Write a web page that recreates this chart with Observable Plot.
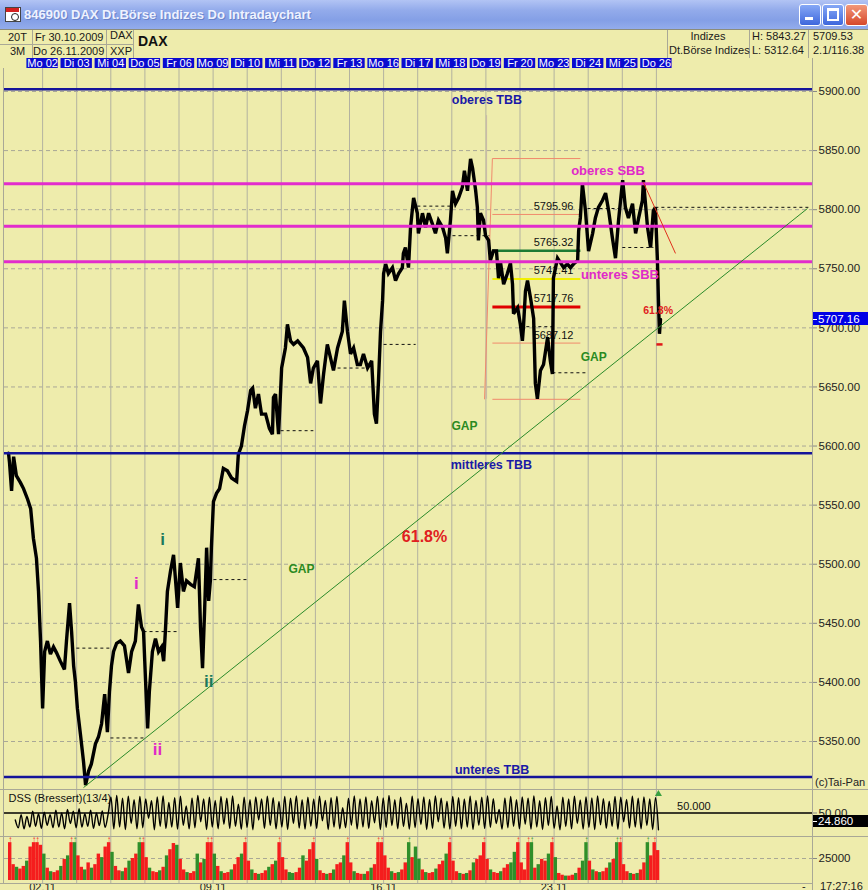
<!DOCTYPE html>
<html>
<head>
<meta charset="utf-8">
<script src="https://cdn.jsdelivr.net/npm/d3@7"></script>
<script src="https://cdn.jsdelivr.net/npm/@observablehq/plot@0.6"></script>
<style>
html,body{margin:0;padding:0;background:#eeecac;}
#root{position:relative;width:868px;height:890px;overflow:hidden;background:#eeecac;font-family:"Liberation Sans",Arial,sans-serif;color:#1a1a1a;}
#root>*{position:absolute;}
</style>
</head>
<body>
<div id="root"></div>
<script>
// ---------------- DATA ----------------
const titleText = "846900 DAX Dt.Börse Indizes Do Intradaychart";
const dayLabels = ["Mo 02","Di 03","Mi 04","Do 05","Fr 06","Mo 09","Di 10","Mi 11","Do 12","Fr 13","Mo 16","Di 17","Mi 18","Do 19","Fr 20","Mo 23","Di 24","Mi 25","Do 26"];
const dayStarts = [1,2,3,4,5,6,7,8,9,10,11,12,13,14,15,16,17,18,19]; // trading-day index (Fr 30.10 = 0)
const weekTicks = [1,6,11,16];
const weekLabels = ["02.11","09.11","16.11","23.11"];
const yTicks = [5350,5400,5450,5500,5550,5600,5650,5700,5750,5800,5850,5900];

const priceT = [0,0.03,0.09,0.15,0.23,0.35,0.44,0.56,0.65,0.73,
0.82,0.88,0.94,1.00,1.06,1.14,1.23,1.32,1.41,1.52,
1.64,1.70,1.79,1.85,1.91,1.96,2.02,2.11,2.20,2.26,
2.35,2.43,2.55,2.64,2.73,2.82,2.90,2.96,3.02,3.08,
3.17,3.28,3.40,3.52,3.61,3.72,3.81,3.90,3.96,4.02,
4.08,4.13,4.22,4.31,4.40,4.49,4.55,4.60,4.66,4.75,
4.84,4.90,4.96,5.04,5.13,5.22,5.34,5.45,5.57,5.63,
5.69,5.75,5.81,5.87,5.92,5.95,6.01,6.10,6.19,6.30,
6.42,6.54,6.69,6.74,6.83,6.92,7.01,7.10,7.16,7.24,
7.33,7.42,7.54,7.65,7.74,7.77,7.83,7.89,7.92,7.98,
8.01,8.12,8.18,8.27,8.36,8.48,8.65,8.77,8.86,8.94,
9.06,9.15,9.24,9.35,9.44,9.53,9.65,9.79,9.85,9.94,
10.03,10.12,10.23,10.32,10.41,10.53,10.65,10.73,10.79,10.85,
10.91,10.97,11.00,11.06,11.14,11.26,11.35,11.44,11.55,11.58,
11.64,11.73,11.79,11.85,11.88,11.99,12.02,12.14,12.23,12.32,
12.43,12.52,12.61,12.73,12.82,12.87,12.96,13.02,13.11,13.20,
13.31,13.37,13.46,13.55,13.61,13.70,13.75,13.78,13.84,13.93,
13.99,14.08,14.13,14.22,14.31,14.37,14.43,14.52,14.63,14.72,
14.78,14.81,14.93,15.01,15.07,15.10,15.16,15.22,15.31,15.40,
15.45,15.51,15.60,15.69,15.81,15.89,15.95,15.98,16.10,16.19,
16.28,16.39,16.48,16.57,16.69,16.72,16.77,16.83,16.92,17.01,
17.13,17.21,17.30,17.42,17.51,17.60,17.71,17.80,17.89,18.01,
18.09,18.18,18.30,18.39,18.48,18.59,18.62,18.74,18.83,18.91,
18.97,19.03,19.06,19.09,19.12];
const priceV = [5594,5586,5562,5591,5575,5569,5564,5555,5547,5522,
5505,5477,5435,5378,5426,5435,5424,5430,5425,5418,
5411,5435,5467,5443,5414,5401,5378,5356,5333,5313,
5325,5331,5348,5354,5365,5390,5358,5392,5414,5426,
5433,5435,5431,5408,5426,5435,5466,5447,5443,5401,
5361,5392,5426,5437,5426,5430,5418,5443,5477,5494,
5508,5486,5463,5501,5477,5486,5483,5481,5505,5447,
5412,5460,5514,5469,5486,5514,5553,5560,5564,5581,
5579,5573,5570,5593,5600,5617,5630,5647,5649,5632,
5644,5627,5627,5615,5610,5641,5644,5621,5610,5647,
5666,5683,5703,5689,5686,5689,5683,5675,5653,5666,
5672,5636,5661,5686,5675,5664,5683,5697,5723,5697,
5678,5683,5669,5669,5678,5666,5672,5627,5619,5655,
5697,5723,5746,5754,5746,5751,5740,5746,5751,5763,
5768,5751,5785,5802,5810,5797,5780,5797,5785,5797,
5788,5780,5791,5785,5776,5763,5791,5816,5805,5810,
5819,5833,5816,5843,5835,5816,5802,5774,5797,5791,
5778,5774,5757,5765,5765,5742,5755,5737,5746,5755,
5737,5712,5717,5703,5689,5700,5731,5740,5725,5708,
5653,5640,5664,5669,5692,5672,5661,5742,5759,5755,
5751,5754,5751,5754,5757,5782,5793,5822,5799,5765,
5780,5793,5802,5808,5814,5799,5776,5759,5791,5825,
5802,5793,5805,5780,5793,5808,5825,5785,5768,5799,
5802,5757,5723,5695,5707.16];
const lastPrice = 5707.16;

const tbbLevels = [5902, 5594, 5320];          // blue "TBB" lines
const sbbLevels = [5822, 5786, 5756];          // magenta "SBB" lines

const fibValues = [5843.27, 5795.96, 5765.32, 5741.41, 5717.76, 5687.12, 5639.55];
const fibLabels = ["", "5795.96", "5765.32", "5741.41", "5717.76", "5687.12", ""];
const fibStart = 14.19, fibEnd = 16.77, fibLabelT = 15.40, fibLowT = 13.96;

// previous-close dashed segments: [from day, to day, price]
const closeT1 = [1.99, 2.99, 3.96, 6.01, 7.98, 9.65, 11.00, 11.99, 13.02, 14.13, 15.01, 15.95, 16.98, 18.00, 18.97];
const closeT2 = [2.99, 4.02, 4.96, 7.01, 8.94, 10.47, 11.94, 12.96, 14.10, 15.00, 15.95, 16.98, 18.15, 18.91, 23.50];
const closeP  = [5429, 5353, 5443, 5487, 5613, 5666, 5686, 5803, 5778, 5786, 5701, 5662, 5801, 5768, 5802];

const trendLine = {t1: 2.20, p1: 5311, t2: 23.43, p2: 5801};
const downLine = {t1: 18.62, p1: 5823, t2: 19.56, p2: 5763};
const endMark = {t1: 19.00, t2: 19.18, p: 5686};

const noteT    = [14.03, 17.58, 17.93, 14.16, 14.18, 13.37, 17.16, 8.59, 12.20, 19.05, 3.75, 4.37, 4.52, 5.87];
const noteP    = [5893, 5833, 5745, 5584, 5326, 5617, 5675, 5496, 5523, 5715, 5484, 5343, 5521, 5401];
const noteText = ["oberes TBB","oberes SBB","unteres SBB","mittleres TBB","unteres TBB","GAP","GAP","GAP","61.8%","61.8%","i","ii","i","ii"];
const noteKind = ["tbb","sbb","sbb","tbb","tbb","gap","gap","gap","fib","fibS","waveM","waveM","waveG","waveG"];

// DSS (Bressert) oscillator, sampled evenly from day 0.2 to 19.06
const dssVals = [30,8,45,5,40,10,55,12,48,6,52,15,45,8,58,10,50,5,60,20,55,8,62,10,48,12,58,6,50,14,56,9,45,
95,5,100,10,92,3,98,20,88,5,
97,8,90,35,85,2,96,12,99,6,
80,10,94,4,98,15,70,5,93,8,
100,25,90,3,95,10,86,5,97,18,
92,6,99,12,75,4,95,9,88,2,
96,30,90,6,98,14,94,5,83,10,
97,3,92,20,99,7,88,4,95,12,
90,6,98,28,86,3,94,10,97,5,
65,8,92,15,99,4,90,10,96,6,
85,22,97,3,93,9,100,14,88,5,
95,11,78,4,98,8,91,17,96,3,
89,6,99,25,92,7,84,4,97,12,
94,5,90,10,98,3,86,15,95,6,
99,9,91,20,60,4,93,8,97,12,
88,5,96,18,92,4,99,10,85,3,
94,14,97,6,70,2,95,11,90,5,
98,20,87,4,96,9,93,3,99,16,
91,6,84,12,97,4,95,25,89,7,
98,10,92,5,96,14,90,3,94,2];
const dssT0 = 0.2, dssT1 = 19.06;

// volume (thousands), 10 slots per trading day
const volDays = [
[44,18,15,13,16,22,38,45,46,40],
[30,14,10,9,11,16,24,28,45,45],
[28,15,12,20,14,18,30,26,38,44],
[32,16,11,10,14,22,25,30,45,45],
[26,14,10,9,11,15,28,35,42,40],
[24,12,9,8,10,30,20,24,45,45],
[30,16,10,8,9,12,18,26,30,45],
[22,12,8,7,8,11,15,18,22,45],
[26,12,9,8,9,14,28,22,35,44],
[24,11,8,7,8,12,18,20,28,45],
[20,10,8,7,7,10,14,18,45,45],
[28,14,10,8,9,12,20,45,26,38],
[24,12,9,8,9,13,18,22,30,45],
[22,10,8,7,8,11,20,24,28,45],
[24,12,9,8,10,14,18,20,32,45],
[20,12,45,44,14,18,24,22,30,45],
[26,8,6,5,5,6,8,14,22,45],
[22,12,10,9,10,14,20,24,44,45],
[18,10,8,7,8,12,20,44,28,45],
[34]];
const volColors = ["rrgrrgrrrr","grgrrgrgrg","rrgrgrrgrr","grrgrgrrgr","rgrrgrgrrg","rrgrrgrgrr","grgrrgrrgr","rgrgrrgrgr","rrggrrgrrr","grrgrgrrgr","rgrrgrgrrr","rrgrgrrgrg","grgrrgrrgr","rrgrgrgrrr","rgrrgrrggr","rrrgrgrrgr","grrgrrgrgg","rgrgrrgrgr","rrgrgrrgrr","r"];
const volCap = 43;

// ---------------- TABLES ----------------
const price = priceT.map((t, i) => ({t, p: priceV[i]}));
const dayTable = dayStarts.map((t, i) => ({t, label: dayLabels[i]}));
const fibTable = fibValues.map((v, i) => ({v, label: fibLabels[i], i, t1: fibStart, t2: fibEnd}));
const closes = closeP.map((p, i) => ({t1: closeT1[i], t2: closeT2[i], p}));
const notes = noteT.map((t, i) => ({t, p: noteP[i], text: noteText[i], kind: noteKind[i]}));
const dss = dssVals.map((v, i) => ({t: dssT0 + (dssT1 - dssT0) * i / (dssVals.length - 1), v}));
const vol = [];
volDays.forEach((arr, d) => arr.forEach((v, j) => vol.push({t1: d + j / 10, t2: d + (j + 1) / 10, v: Math.min(v, volCap), clip: v > volCap, c: volColors[d][j] === "g" ? "#2f8f2a" : "#f51d1d"})));

// ---------------- LAYOUT HELPERS ----------------
const root = document.getElementById("root");
function el(css, text) { const e = document.createElement("div"); e.style.cssText = css; if (text != null) e.textContent = text; root.appendChild(e); return e; }
function place(svg, top) { svg.style.position = "absolute"; svg.style.left = "0px"; svg.style.top = top + "px"; root.appendChild(svg); return svg; }

const FONT = "Liberation Sans, Arial, sans-serif";
const X = {domain: [0, 1], range: [8, 42.1]};
const baseStyle = {background: "transparent", fontFamily: FONT, fontSize: "11px", color: "#1a1a1a", overflow: "visible"};
const GRIDV = {stroke: "#b3b2a0", strokeOpacity: 1};
const GRIDH = {stroke: "#a9a896", strokeOpacity: 1, strokeDasharray: "4,3"};

// ---------------- TITLE BAR & HEADER ----------------
el("left:0;top:0;width:868px;height:29px;background:linear-gradient(180deg,#b2c4f4 0%,#93abeb 35%,#849fe6 70%,#93acec 100%);");
el("left:5px;top:7px;width:14px;height:13px;background:#fff;border:1px solid #444;");
el("left:6px;top:8px;width:13px;height:4px;background:#d42020;");
el("left:11px;top:13px;width:6px;height:6px;border-radius:50%;border:1px solid #222;background:#fff;");
el("left:24px;top:7px;font-size:13px;font-weight:bold;color:#eef2ff;text-shadow:1px 1px 0 #6a82c8;white-space:nowrap;line-height:15px;", titleText);
el("left:799px;top:4px;width:20px;height:20px;border:1px solid #fff;border-radius:3px;background:linear-gradient(#86a8f6,#3e67dc);");
el("left:805px;top:17px;width:8px;height:3px;background:#fff;");
el("left:822px;top:4px;width:20px;height:20px;border:1px solid #fff;border-radius:3px;background:linear-gradient(#86a8f6,#3e67dc);");
el("left:827px;top:8px;width:8px;height:8px;border:2px solid #fff;border-top-width:3px;");
el("left:845px;top:4px;width:21px;height:20px;border:1px solid #fff;border-radius:3px;background:linear-gradient(#f2987a,#d6482a);color:#fff;font:bold 16px 'DejaVu Sans',sans-serif;text-align:center;line-height:20px;", "✕");

el("left:0;top:29px;width:868px;height:1px;background:#8c8c7a;");
[32, 106, 133, 667, 749, 808].forEach(x => el(`left:${x}px;top:30px;width:1px;height:28px;background:#a9a896;`));
el("left:0;top:44px;width:133px;height:1px;background:#a9a896;");
const hdr = "font-size:11px;line-height:13px;white-space:nowrap;color:#1a1a1a;";
el(hdr + "left:8px;top:31px;", "20T");
el(hdr + "left:35px;top:31px;", "Fr 30.10.2009");
el(hdr + "left:110px;top:29px;", "DAX");
el(hdr + "left:10px;top:45px;", "3M");
el(hdr + "left:33px;top:45px;", "Do 26.11.2009");
el(hdr + "left:110px;top:45px;", "XXP");
el("left:138px;top:34px;font-size:14px;font-weight:bold;line-height:15px;color:#111;", "DAX");
el(hdr + "left:668px;top:30px;width:80px;text-align:center;", "Indizes");
el(hdr + "left:669px;top:44px;", "Dt.Börse Indizes");
el(hdr + "left:752px;top:30px;", "H: 5843.27");
el(hdr + "left:752px;top:44px;", "L: 5312.64");
el(hdr + "left:813px;top:30px;", "5709.53");
el(hdr + "left:813px;top:44px;", "2.1/116.38");

// ---------------- DATE ROW ----------------
place(Plot.plot({
  width: 868, height: 10, margin: 0,
  style: baseStyle,
  x: {...X, axis: null},
  y: {domain: [0, 1], range: [10, 0], axis: null},
  marks: [
    Plot.rect(dayTable, {x1: d => d.t - 0.46, x2: d => d.t + 0.46, y1: () => 0, y2: () => 1, fill: "#0b0bcf"}),
    Plot.text(dayTable, {x: "t", y: () => 0.5, text: "label", fill: "white", fontSize: 11})
  ]
}), 58);

// ---------------- MAIN PRICE PANEL ----------------
const fibColor = ["#f08a6c", "#f08a6c", "#1d7a34", "#f2f000", "#e00000", "#f08a6c", "#f08a6c"];
const fibWidth = [1, 1, 2.5, 2, 3, 1, 1];
const noteStyle = {
  tbb: {fill: "#1a1aa6", size: 12.5},
  sbb: {fill: "#e02ac8", size: 13},
  gap: {fill: "#2a8a22", size: 12},
  fib: {fill: "#e02020", size: 16},
  fibS: {fill: "#e02020", size: 10.5},
  waveM: {fill: "#e02ac8", size: 17},
  waveG: {fill: "#1b7a5c", size: 17}
};
const main = Plot.plot({
  width: 868, height: 721, marginTop: 0, marginBottom: 0, marginLeft: 4, marginRight: 56,
  style: baseStyle,
  x: {...X, axis: null},
  y: {domain: [5350, 5900], range: [673, 23], axis: null},
  color: {type: "identity"},
  marks: [
    Plot.gridY(yTicks, GRIDH),
    Plot.gridX(dayStarts, GRIDV),
    Plot.link([{t: 14.02}], {x1: "t", x2: "t", y1: () => 5880, y2: () => 5640, stroke: "#c8b8a8", strokeWidth: 1}),
    Plot.link([{}], {x1: () => fibStart, y1: () => fibValues[0], x2: () => fibLowT, y2: () => fibValues[6], stroke: "#f08a6c", strokeWidth: 1}),
    Plot.link(fibTable, {x1: "t1", x2: "t2", y1: "v", y2: "v", stroke: d => fibColor[d.i], strokeWidth: d => fibWidth[d.i]}),
    Plot.text(fibTable.filter(d => d.label), {x: () => fibLabelT, y: "v", text: "label", dy: -8, textAnchor: "start", fill: "#111", fontSize: 11}),
    Plot.link(closes, {x1: "t1", x2: "t2", y1: "p", y2: "p", stroke: "#111", strokeWidth: 1, strokeDasharray: "3,3"}),
    Plot.line(price, {x: "t", y: "p", stroke: "#000", strokeWidth: 3.4, strokeLinejoin: "miter", strokeMiterlimit: 3}),
    Plot.ruleY(tbbLevels, {stroke: "#14149a", strokeWidth: 2.5}),
    Plot.ruleY(sbbLevels, {stroke: "#e22ccc", strokeWidth: 3}),
    Plot.link([trendLine], {x1: "t1", y1: "p1", x2: "t2", y2: "p2", stroke: "#2a8a2a", strokeWidth: 1}),
    Plot.link([downLine], {x1: "t1", y1: "p1", x2: "t2", y2: "p2", stroke: "#e0301c", strokeWidth: 1}),
    Plot.link([endMark], {x1: "t1", x2: "t2", y1: "p", y2: "p", stroke: "#e01818", strokeWidth: 2.5}),
    ...Object.keys(noteStyle).map(k => Plot.text(notes.filter(d => d.kind === k), {
      x: "t", y: "p", text: "text", fill: noteStyle[k].fill, fontSize: noteStyle[k].size, fontWeight: "bold"
    })),
    Plot.axisY(yTicks, {anchor: "right", label: null, tickSize: 4, tickPadding: 2, tickFormat: d => d.toFixed(2), color: "#222", stroke: "#888", fontSize: 11.5})
  ]
});
place(main, 68);

// last-price flag on the axis
const yLast = 68 + main.scale("y").apply(lastPrice);
el(`left:812px;top:${yLast - 6.5}px;width:56px;height:13px;background:#0000e6;`);
el(`left:813px;top:${yLast}px;width:4px;height:1px;background:#fff;`);
el(`left:818px;top:${yLast - 7}px;font-size:11.5px;line-height:14px;color:#fff;white-space:nowrap;`, lastPrice.toFixed(2));
el("left:815px;top:776px;font-size:11px;line-height:13px;white-space:nowrap;color:#222;", "(c)Tai-Pan");

// ---------------- DSS PANEL ----------------
const dssPlot = Plot.plot({
  width: 868, height: 47, marginTop: 0, marginBottom: 0, marginLeft: 4, marginRight: 56,
  style: baseStyle,
  x: {...X, axis: null},
  y: {domain: [0, 100], range: [41, 6], axis: null},
  marks: [
    Plot.gridX(dayStarts, GRIDV),
    Plot.ruleY([50], {stroke: "#000", strokeWidth: 1.5}),
    Plot.line(dss, {x: "t", y: "v", stroke: "#000", strokeWidth: 1.4, curve: "catmull-rom"}),
    Plot.dot([{t: 19.06}], {x: "t", y: () => 104, symbol: "triangle", r: 2.6, fill: "#3aa040", stroke: "none"}),
    Plot.text(["DSS (Bressert)(13/4)"], {frameAnchor: "top-left", dx: 4, dy: 5, fill: "#111", fontSize: 11, textAnchor: "start"}),
    Plot.text([{t: 20.1, v: 50}], {x: "t", y: "v", text: () => "50.000", dy: -7, fill: "#111", fontSize: 11}),
    Plot.axisY([50], {anchor: "right", label: null, tickSize: 4, tickPadding: 2, tickFormat: d => d.toFixed(2), color: "#222", stroke: "#888", fontSize: 11.5})
  ]
});
place(dssPlot, 789);
el("left:812px;top:815px;width:56px;height:12px;background:#000;");
el("left:813px;top:821px;width:4px;height:1px;background:#fff;");
el("left:818px;top:814px;font-size:11.5px;line-height:14px;color:#fff;white-space:nowrap;", "24.860");

// ---------------- VOLUME PANEL ----------------
const volPlot = Plot.plot({
  width: 868, height: 54, marginTop: 0, marginBottom: 7, marginLeft: 4, marginRight: 56,
  style: baseStyle,
  x: {...X, axis: null},
  y: {domain: [0, 25], range: [44, 22], axis: null},
  color: {type: "identity"},
  marks: [
    Plot.gridX(dayStarts, GRIDV),
    Plot.gridY([25], GRIDH),
    Plot.rectY(vol, {x1: "t1", x2: "t2", y: "v", fill: "c", inset: 0}),
    Plot.text(vol.filter(d => d.clip), {x: d => (d.t1 + d.t2) / 2, y: "v", text: () => "↑", dy: -3, fill: "c", fontSize: 8}),
    Plot.axisY([25], {anchor: "right", label: null, tickSize: 4, tickPadding: 2, tickFormat: d => String(d * 1000), color: "#222", stroke: "#888", fontSize: 11.5}),
    Plot.axisX(weekTicks, {anchor: "bottom", label: null, tickSize: 0, tickPadding: 0, tickFormat: d => weekLabels[weekTicks.indexOf(d)], color: "#222", fontSize: 11})
  ]
});
place(volPlot, 836);

// panel frame lines
el("left:0;top:789px;width:868px;height:1px;background:#a9a896;");
el("left:0;top:836px;width:868px;height:1px;background:#a9a896;");
el("left:0;top:883px;width:812px;height:1px;background:#a9a896;");
el("left:812px;top:58px;width:1px;height:832px;background:#a9a896;");
el("left:3px;top:68px;width:1px;height:815px;background:#a9a896;");
el("left:802px;top:880px;font-size:11px;line-height:13px;color:#222;", "-");
el("left:820px;top:880px;font-size:11px;line-height:13px;color:#222;white-space:nowrap;", "17:27:16");
</script>
</body>
</html>
